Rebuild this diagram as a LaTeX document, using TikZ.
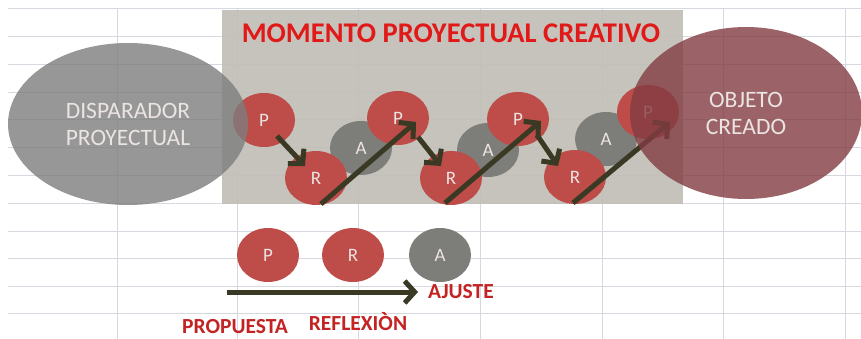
\documentclass[tikz,border=0pt]{standalone}
\usepackage{fontspec}
\setmainfont{Carlito}
\usetikzlibrary{arrows.meta,shapes.geometric}
\definecolor{gridc}{RGB}{214,218,224}
\definecolor{rectc}{RGB}{193,190,183}
\definecolor{redc}{RGB}{190,76,72}
\definecolor{grayc}{RGB}{125,125,122}
\definecolor{leftc}{RGB}{125,125,125}
\definecolor{rightc}{RGB}{130,60,66}
\definecolor{arrc}{RGB}{58,58,36}
\definecolor{titlec}{RGB}{225,25,25}
\definecolor{labc}{RGB}{195,35,35}
\definecolor{txtc}{RGB}{235,228,226}
\tikzset{
  pc/.style={ellipse, minimum width=62pt, minimum height=54pt, inner sep=0pt, fill=redc, text=txtc, font=\fontsize{19}{19}\selectfont},
  ac/.style={pc, fill=grayc},
  flow/.style={draw=arrc, line width=5pt, -{Straight Barb[length=10pt,width=22pt,line width=5pt]}},
  lab/.style={text=labc, inner sep=0pt, font=\bfseries\fontsize{21.5}{21.5}\selectfont},
  big/.style={ellipse, inner sep=0pt, text=txtc, align=center, font=\fontsize{23.5}{27}\selectfont}
}
\begin{document}
\begin{tikzpicture}[x=1pt,y=-1pt]
\useasboundingbox (0,0) rectangle (861,339);
\fill[white] (0,0) rectangle (861,339);
% spreadsheet grid
\foreach \yy in {9,37,65,93,120,148,176,203,231,258,286,313}
  \draw[gridc, line width=1pt] (8,\yy) -- (861,\yy);
\foreach \xx in {117,237,358,480,602,723,845}
  \draw[gridc, line width=1pt] (\xx,9) -- (\xx,339);
% background rectangle
\node[fill=rectc, fill opacity=0.92, minimum width=461pt, minimum height=194pt, inner sep=0pt, anchor=north west] (box) at (222,10) {};
\node[text=titlec, font=\bfseries\fontsize{28.5}{28.5}\selectfont] (title) at (451,33) {MOMENTO PROYECTUAL CREATIVO};
% circles
\node[ac] (a1) at (361,148) {A};
\node[ac] (a2) at (488,150) {A};
\node[ac] (a3) at (606,139) {A};
\node[pc] (p1) at (264,120) {P};
\node[pc] (r1) at (316,178) {R};
\node[pc] (p2) at (398,118) {P};
\node[pc] (r2) at (451,178) {R};
\node[pc] (p3) at (518,119) {P};
\node[pc] (r3) at (575,177) {R};
\node[pc] (p4) at (648,112) {P};
% arrows
\coordinate (s1) at (277,136); \coordinate (t1) at (305,166);
\coordinate (s2) at (418,137); \coordinate (t2) at (441,166);
\coordinate (s3) at (537,135); \coordinate (t3) at (558,166);
\coordinate (l1) at (321,204); \coordinate (m1) at (416,122);
\coordinate (l2) at (445,203); \coordinate (m2) at (541,121);
\coordinate (l3) at (573,203); \coordinate (m3) at (670,122);
\draw[flow] (s1) -- (t1);
\draw[flow] (s2) -- (t2);
\draw[flow] (s3) -- (t3);
\draw[flow] (l1) -- (m1);
\draw[flow] (l2) -- (m2);
\draw[flow] (l3) -- (m3);
% big ellipses
\node[big, fill=leftc, fill opacity=0.8, text opacity=1, minimum width=240pt, minimum height=162pt] (disp) at (128,124) {DISPARADOR\\PROYECTUAL};
\node[big, fill=rightc, fill opacity=0.8, text opacity=1, minimum width=232pt, minimum height=172pt] (obj) at (746,113) {OBJETO\\CREADO};
% legend
\node[pc] (lp) at (268,255) {P};
\node[pc] (lr) at (353,255) {R};
\node[ac] (la) at (440,255) {A};
\coordinate (ls) at (227,292);
\coordinate (le) at (418,292);
\draw[flow] (ls) -- (le);
\node[lab] (ajuste) at (461,292) {AJUSTE};
\node[lab] (refl) at (358,322) {REFLEXIÒN};
\node[lab] (prop) at (235,327) {PROPUESTA};
\end{tikzpicture}
\end{document}
